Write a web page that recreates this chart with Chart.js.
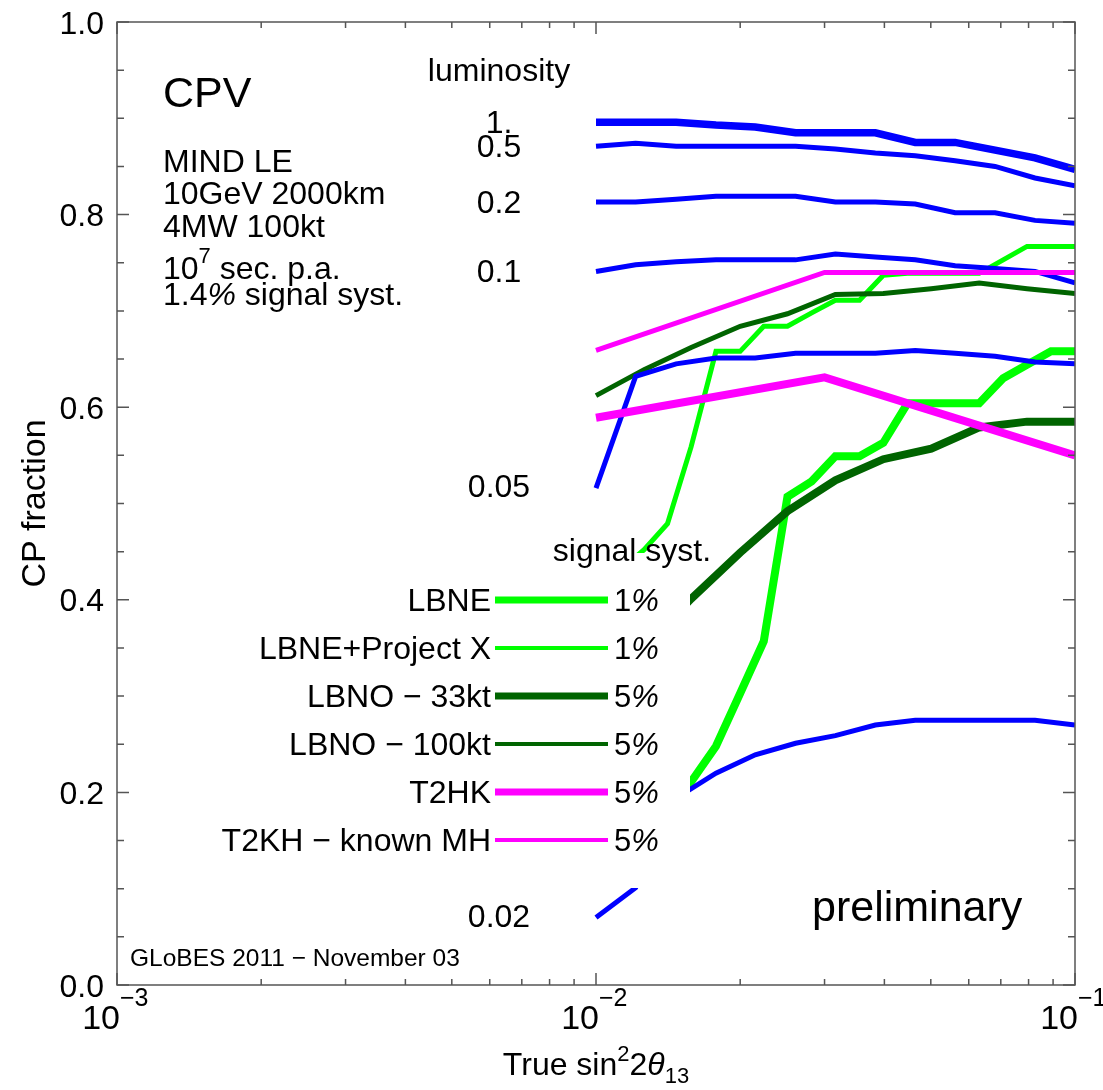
<!DOCTYPE html>
<html>
<head>
<meta charset="utf-8">
<title>CPV - CP fraction</title>
<script src="https://cdn.jsdelivr.net/npm/chart.js@4.4.1/dist/chart.umd.min.js"></script>
<style>
  html, body { margin: 0; padding: 0; background: #fff; }
  #wrap { width: 1103px; height: 1090px; }
</style>
</head>
<body>
<div id="wrap"><canvas id="cpv" width="1103" height="1090"></canvas></div>
<script>
// ── Data ───────────────────────────────────────────────────

// neutrino factory (MIND LE), one curve per luminosity, 12 points / decade
const LUM_X   = [0.01, 0.0121, 0.0147, 0.0178, 0.0215, 0.0261, 0.0316, 0.0383, 0.0464, 0.0562, 0.0681, 0.0825, 0.1];
const LUM_1   = [0.896, 0.896, 0.896, 0.893, 0.891, 0.885, 0.885, 0.885, 0.875, 0.875, 0.867, 0.859, 0.847];
const LUM_05  = [0.871, 0.874, 0.871, 0.871, 0.871, 0.871, 0.868, 0.864, 0.861, 0.856, 0.850, 0.838, 0.830];
const LUM_02  = [0.813, 0.813, 0.816, 0.819, 0.819, 0.819, 0.813, 0.813, 0.811, 0.802, 0.802, 0.794, 0.791];
const LUM_01  = [0.741, 0.748, 0.751, 0.753, 0.753, 0.753, 0.759, 0.756, 0.753, 0.747, 0.744, 0.741, 0.729];
const LUM_005 = [0.516, 0.632, 0.645, 0.651, 0.651, 0.656, 0.656, 0.656, 0.659, 0.656, 0.653, 0.647, 0.645];
const LUM_002 = [0.070, 0.101, 0.194, 0.220, 0.239, 0.251, 0.259, 0.270, 0.275, 0.275, 0.275, 0.275, 0.270];
const LUM_LABELS = ['1.', '0.5', '0.2', '0.1', '0.05', '0.02'];

// LBNE, 20 points / decade
const LBNE_X  = [0.01, 0.0112, 0.0126, 0.0141, 0.0158, 0.0178, 0.02, 0.0224, 0.0251, 0.0282, 0.0316,
                 0.0355, 0.0398, 0.0447, 0.0501, 0.0562, 0.0631, 0.0708, 0.0794, 0.0891, 0.1];
const LBNE    = [0.13, 0.15, 0.17, 0.19, 0.211, 0.248, 0.303, 0.357, 0.507, 0.523, 0.549,
                 0.549, 0.563, 0.604, 0.604, 0.604, 0.604, 0.630, 0.644, 0.658, 0.658];
const LBNE_PX = [0.41, 0.43, 0.452, 0.479, 0.559, 0.658, 0.658, 0.684, 0.684, 0.698, 0.711,
                 0.711, 0.737, 0.739, 0.739, 0.739, 0.739, 0.753, 0.767, 0.767, 0.767];

// LBNO, 10 points / decade
const LBNO_X   = [0.01, 0.0126, 0.0158, 0.02, 0.0251, 0.0316, 0.0398, 0.0501, 0.0631, 0.0794, 0.1];
const LBNO_33  = [0.29, 0.35, 0.401, 0.449, 0.492, 0.524, 0.546, 0.557, 0.579, 0.585, 0.585];
const LBNO_100 = [0.612, 0.639, 0.662, 0.684, 0.697, 0.717, 0.718, 0.723, 0.729, 0.723, 0.718];

// T2HK
const T2HK_X  = [0.01, 0.03, 0.1];
const T2HK    = [0.589, 0.631, 0.550];
const T2HK_MH = [0.659, 0.740, 0.740];

// legend rows and axis ticks
const LEGEND_LABELS = ['LBNE', 'LBNE+Project X', 'LBNO \u2212 33kt', 'LBNO \u2212 100kt', 'T2HK', 'T2KH \u2212 known MH'];
const LEGEND_SYST   = ['1', '1', '5', '5', '5', '5'];
const Y_MAJOR = [0, 0.2, 0.4, 0.6, 0.8, 1.0];
const X_DECADES = [-3, -2, -1];

// ── Styling ────────────────────────────────────────────────
const FONT = "'Liberation Sans', Arial, Helvetica, sans-serif";
const BLUE = '#0000ff', LIME = '#00ff00', DARK = '#006400', MAGENTA = '#ff00ff';
const THICK = 8, THIN = 5;
const TS = 32; // body text size

const pts = (xs, ys) => xs.map((x, i) => ({ x, y: ys[i] }));

function series(xs, ys, color, width, order) {
  return {
    data: pts(xs, ys),
    borderColor: color,
    borderWidth: width,
    borderCapStyle: 'butt',
    borderJoinStyle: 'miter',
    pointRadius: 0,
    tension: 0,
    fill: false,
    order,
  };
}

// legend sample datasets first (same order as LEGEND_LABELS)
const datasets = [
  series(LBNE_X, LBNE, LIME, THICK, 4),
  series(LBNE_X, LBNE_PX, LIME, THIN, 5),
  series(LBNO_X, LBNO_33, DARK, THICK, 3),
  series(LBNO_X, LBNO_100, DARK, THIN, 3),
  series(T2HK_X, T2HK, MAGENTA, THICK, 0),
  series(T2HK_X, T2HK_MH, MAGENTA, THIN, 0),
  series(LUM_X, LUM_1, BLUE, 7.5, 1),
  series(LUM_X, LUM_05, BLUE, THIN, 1),
  series(LUM_X, LUM_02, BLUE, THIN, 1),
  series(LUM_X, LUM_01, BLUE, THIN, 1),
  series(LUM_X, LUM_005, BLUE, THIN, 1),
  series(LUM_X, LUM_002, BLUE, THIN, 1),
];

// ── Text helpers ───────────────────────────────────────────

/**
 * Draw a run of text parts on one baseline.
 * parts: [text, size, opts] with opts.italic and opts.dy (baseline shift)
 */
function rich(ctx, parts, x, y, align) {
  let total = 0;
  const runs = parts.map(([t, size, o = {}]) => {
    ctx.font = `${o.italic ? 'italic ' : ''}${size}px ${FONT}`;
    const w = ctx.measureText(t).width;
    total += w;
    return { t, size, o, w };
  });
  let cx = align === 'center' ? x - total / 2 : align === 'right' ? x - total : x;
  ctx.textAlign = 'left';
  ctx.textBaseline = 'alphabetic';
  runs.forEach(r => {
    ctx.font = `${r.o.italic ? 'italic ' : ''}${r.size}px ${FONT}`;
    ctx.fillText(r.t, cx, y + (r.o.dy || 0));
    cx += r.w;
  });
}

const txt = (ctx, t, x, y, size, align = 'left') => rich(ctx, [[t, size]], x, y, align);

// ── Decorations: legend panel, annotations, frame and ticks ─

const decor = {
  id: 'decor',
  afterDatasetsDraw(chart) {
    const { ctx, chartArea: a, scales: { x, y } } = chart;
    ctx.save();

    // legend panel hides the curves behind it
    ctx.fillStyle = '#fff';
    ctx.fillRect(a.left + 2, 553, 690 - a.left - 2, 888 - 553);
    ctx.fillStyle = '#000';

    txt(ctx, 'signal syst.', 632, 561, TS, 'center');
    LEGEND_LABELS.forEach((lbl, i) => {
      const ry = 600 + i * 48;
      const ds = chart.data.datasets[i];
      ctx.strokeStyle = ds.borderColor;
      ctx.lineWidth = ds.borderWidth - 1;
      ctx.lineCap = 'butt';
      ctx.beginPath();
      ctx.moveTo(495, ry);
      ctx.lineTo(608, ry);
      ctx.stroke();
      txt(ctx, lbl, 491, ry + 11, TS, 'right');
      rich(ctx, [[LEGEND_SYST[i], 31], ['%', 31, { italic: true }]], 614, ry + 11, 'left');
    });

    // experiment description
    txt(ctx, 'CPV', 163, 107, 43);
    txt(ctx, 'MIND LE', 163, 172, TS);
    txt(ctx, '10GeV 2000km', 163, 204, TS);
    txt(ctx, '4MW 100kt', 163, 237, TS);
    rich(ctx, [['10', TS], ['7', 22, { dy: -16 }], [' sec. p.a.', TS]], 163, 279, 'left');
    rich(ctx, [['1.4', TS], ['%', TS, { italic: true }], [' signal syst.', TS]], 163, 305, 'left');

    // luminosity labels
    txt(ctx, 'luminosity', 499, 81, TS, 'center');
    const lumY = [133, 157, 213, 282, 497, 927];
    LUM_LABELS.forEach((l, i) => txt(ctx, l, 499, lumY[i], TS, 'center'));

    txt(ctx, 'preliminary', 812, 921, 43);
    txt(ctx, 'GLoBES 2011 \u2212 November 03', 130, 966, 24.5);

    // frame
    ctx.strokeStyle = '#555';
    ctx.lineWidth = 1.5;
    ctx.strokeRect(a.left, a.top, a.right - a.left, a.bottom - a.top);

    // y ticks every 0.05, major every 0.2
    for (let k = 0; k <= 20; k++) {
      const py = y.getPixelForValue(k * 0.05);
      const len = k % 4 === 0 ? 12 : 7;
      ctx.beginPath();
      ctx.moveTo(a.left, py); ctx.lineTo(a.left + len, py);
      ctx.moveTo(a.right, py); ctx.lineTo(a.right - len, py);
      ctx.stroke();
    }
    Y_MAJOR.forEach(v => txt(ctx, v.toFixed(1), 104, y.getPixelForValue(v) + 11.5, 32, 'right'));

    // x ticks, log decades with minor 2..9
    X_DECADES.forEach(e => {
      for (let m = 1; m <= 9; m++) {
        const v = m * Math.pow(10, e);
        if (v > x.max * 1.0001) continue;
        const px = x.getPixelForValue(v);
        const len = m === 1 ? 12 : 6;
        ctx.beginPath();
        ctx.moveTo(px, a.bottom); ctx.lineTo(px, a.bottom - len);
        ctx.moveTo(px, a.top); ctx.lineTo(px, a.top + len);
        ctx.stroke();
      }
      const px = x.getPixelForValue(Math.pow(10, e));
      txt(ctx, '10', px + 3, 1029, 34, 'right');
      txt(ctx, '\u2212' + Math.abs(e), px + 3, 1006, 25);
    });

    // axis titles
    rich(ctx, [['True sin', 32], ['2', 22, { dy: -14 }], ['2', 32], ['\u03b8', 32, { italic: true }], ['13', 22, { dy: 8 }]],
      596, 1075, 'center');
    ctx.save();
    ctx.translate(45, (a.top + a.bottom) / 2);
    ctx.rotate(-Math.PI / 2);
    txt(ctx, 'CP fraction', 0, 0, 34, 'center');
    ctx.restore();

    ctx.restore();
  }
};

// ── Chart ──────────────────────────────────────────────────

new Chart(document.getElementById('cpv'), {
  type: 'line',
  data: { datasets },
  options: {
    responsive: false,
    devicePixelRatio: 1,
    animation: false,
    events: [],
    layout: { padding: { left: 117, right: 28, top: 22, bottom: 105 } },
    scales: {
      x: { type: 'logarithmic', min: 0.001, max: 0.1, display: false },
      y: { type: 'linear', min: 0, max: 1, display: false },
    },
    plugins: { legend: { display: false }, tooltip: { enabled: false } },
  },
  plugins: [decor],
});
</script>
</body>
</html>
